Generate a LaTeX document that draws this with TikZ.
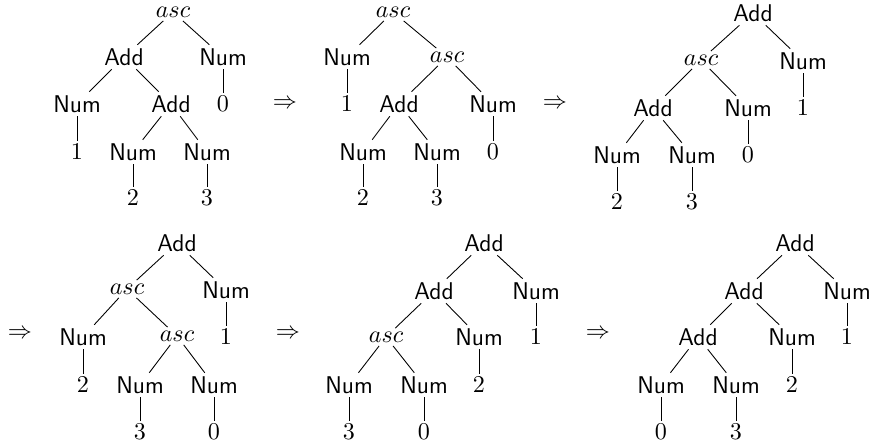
\documentclass[tikz,border=0pt]{standalone}
\begin{document}
\begin{tikzpicture}[x=0.4545pt,y=-0.4545pt,
  every node/.style={inner sep=1.5pt,font=\fontsize{11}{13}\selectfont},
  sf/.style={font=\fontsize{11}{13}\selectfont\sffamily},
  edge/.style={draw=black,line width=0.4pt}]
\useasboundingbox (0,0) rectangle (872,442);
% ---------- tree 1
\node (a1) at (173,12) {$asc$};
\node[sf] (a2) at (124,57) {Add};
\node[sf] (a3) at (223,57) {Num};
\node[sf] (a4) at (77,104) {Num};
\node[sf] (a5) at (171,104) {Add};
\node (a6) at (223,104) {$0$};
\node (a7) at (77,152) {$1$};
\node[sf] (a8) at (133,152) {Num};
\node[sf] (a9) at (207,152) {Num};
\node (a10) at (133,198) {$2$};
\node (a11) at (207,198) {$3$};
\foreach \p/\c in {a1/a2,a1/a3,a2/a4,a2/a5,a3/a6,a4/a7,a5/a8,a5/a9,a8/a10,a9/a11}
  \draw[edge] (\p) -- (\c);
\node (r1) at (285,104) {$\Rightarrow$};
% ---------- tree 2
\node (b1) at (393,12) {$asc$};
\node[sf] (b2) at (347,57) {Num};
\node (b3) at (447,57) {$asc$};
\node (b4) at (347,104) {$1$};
\node[sf] (b5) at (399,104) {Add};
\node[sf] (b6) at (493,104) {Num};
\node[sf] (b7) at (363,152) {Num};
\node[sf] (b8) at (437,152) {Num};
\node (b9) at (493,152) {$0$};
\node (b10) at (363,198) {$2$};
\node (b11) at (437,198) {$3$};
\foreach \p/\c in {b1/b2,b1/b3,b2/b4,b3/b5,b3/b6,b5/b7,b5/b8,b6/b9,b7/b10,b8/b11}
  \draw[edge] (\p) -- (\c);
\node (r2) at (555,104) {$\Rightarrow$};
% ---------- tree 3
\node[sf] (c1) at (753,13) {Add};
\node (c2) at (701,60) {$asc$};
\node[sf] (c3) at (803,61) {Num};
\node[sf] (c4) at (653,108) {Add};
\node[sf] (c5) at (748,108) {Num};
\node (c6) at (803,108) {$1$};
\node[sf] (c7) at (617,155) {Num};
\node[sf] (c8) at (692,155) {Num};
\node (c9) at (748,155) {$0$};
\node (c10) at (617,202) {$2$};
\node (c11) at (692,202) {$3$};
\foreach \p/\c in {c1/c2,c1/c3,c2/c4,c2/c5,c3/c6,c4/c7,c4/c8,c5/c9,c7/c10,c8/c11}
  \draw[edge] (\p) -- (\c);
% ---------- row 2
\node (r3) at (20,334) {$\Rightarrow$};
% ---------- tree 4
\node[sf] (d1) at (177,243) {Add};
\node (d2) at (127,289) {$asc$};
\node[sf] (d3) at (226,290) {Num};
\node[sf] (d4) at (83,337) {Num};
\node (d5) at (177,336) {$asc$};
\node (d6) at (226,337) {$1$};
\node (d7) at (83,385) {$2$};
\node[sf] (d8) at (140,385) {Num};
\node[sf] (d9) at (214,385) {Num};
\node (d10) at (140,432) {$3$};
\node (d11) at (214,432) {$0$};
\foreach \p/\c in {d1/d2,d1/d3,d2/d4,d2/d5,d3/d6,d4/d7,d5/d8,d5/d9,d8/d10,d9/d11}
  \draw[edge] (\p) -- (\c);
\node (r4) at (288,334) {$\Rightarrow$};
% ---------- tree 5
\node[sf] (e1) at (484,243) {Add};
\node[sf] (e2) at (434,291) {Add};
\node[sf] (e3) at (536,291) {Num};
\node (e4) at (386,337) {$asc$};
\node[sf] (e5) at (479,337) {Num};
\node (e6) at (536,337) {$1$};
\node[sf] (e7) at (349,385) {Num};
\node[sf] (e8) at (424,385) {Num};
\node (e9) at (479,385) {$2$};
\node (e10) at (349,432) {$3$};
\node (e11) at (424,432) {$0$};
\foreach \p/\c in {e1/e2,e1/e3,e2/e4,e2/e5,e3/e6,e4/e7,e4/e8,e5/e9,e7/e10,e8/e11}
  \draw[edge] (\p) -- (\c);
\node (r5) at (598,334) {$\Rightarrow$};
% ---------- tree 6
\node[sf] (f1) at (795,243) {Add};
\node[sf] (f2) at (744,291) {Add};
\node[sf] (f3) at (847,291) {Num};
\node[sf] (f4) at (698,337) {Add};
\node[sf] (f5) at (792,337) {Num};
\node (f6) at (847,337) {$1$};
\node[sf] (f7) at (661,385) {Num};
\node[sf] (f8) at (736,385) {Num};
\node (f9) at (792,385) {$2$};
\node (f10) at (661,432) {$0$};
\node (f11) at (736,432) {$3$};
\foreach \p/\c in {f1/f2,f1/f3,f2/f4,f2/f5,f3/f6,f4/f7,f4/f8,f5/f9,f7/f10,f8/f11}
  \draw[edge] (\p) -- (\c);
\end{tikzpicture}
\end{document}
